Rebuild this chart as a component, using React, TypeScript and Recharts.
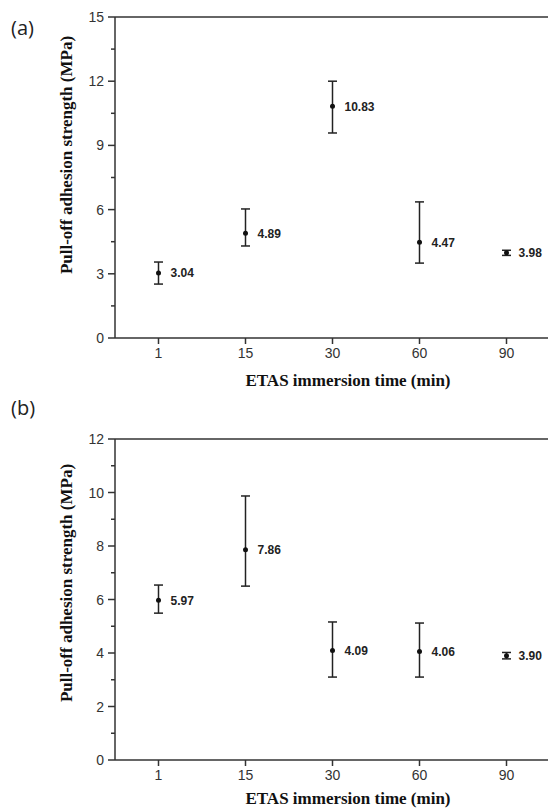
import React from 'react';
import { ComposedChart, Line, XAxis, YAxis, ErrorBar, LabelList, ReferenceLine } from 'recharts';

const times = ['1', '15', '30', '60', '90'];
const meanA = [3.04, 4.89, 10.83, 4.47, 3.98];
const errLowA = [0.52, 0.59, 1.25, 0.97, 0.12];
const errHighA = [0.51, 1.14, 1.17, 1.89, 0.12];
const meanB = [5.97, 7.86, 4.09, 4.06, 3.9];
const errLowB = [0.48, 1.36, 0.99, 0.96, 0.12];
const errHighB = [0.57, 2.01, 1.07, 1.06, 0.12];
const majorTicksA = [0, 3, 6, 9, 12, 15];
const minorTicksA = [1.5, 4.5, 7.5, 10.5, 13.5];
const majorTicksB = [0, 2, 4, 6, 8, 10, 12];
const minorTicksB = [1, 3, 5, 7, 9, 11];
const xTitle = 'ETAS immersion time (min)';
const yTitle = 'Pull-off adhesion strength (MPa)';

const AXIS = '#333';
const SANS = '"Liberation Sans", Arial, sans-serif';
const SERIF = '"Liberation Serif", "Times New Roman", serif';

const build = (means: number[], lows: number[], highs: number[]) =>
  times.map((t, i) => ({ t, v: means[i], err: [lows[i], highs[i]] }));

const dataA = build(meanA, errLowA, errHighA);
const dataB = build(meanB, errLowB, errHighB);

const makeYTick = (majors: number[]) => (props: any) => {
  const { x, y, payload } = props;
  const v = payload.value;
  const isMajor = majors.includes(v);
  return (
    <g>
      <line x1={x - (isMajor ? 7 : 4)} x2={x} y1={y} y2={y} stroke={AXIS} strokeWidth={1.5} />
      {isMajor && (
        <text x={x - 11} y={y} dy="0.36em" textAnchor="end" fontSize={14} fill="#333" fontFamily={SANS}>
          {v}
        </text>
      )}
    </g>
  );
};

const valueLabel = (props: any) => {
  const { x, y, value } = props;
  return (
    <text x={x + 12} y={y} dy="0.36em" fontSize={12} fontWeight="bold" fill="#222" fontFamily={SANS}>
      {Number(value).toFixed(2)}
    </text>
  );
};

type PanelProps = {
  data: any[];
  majors: number[];
  minors: number[];
  yMax: number;
  height: number;
  top: number;
  plotTop: number;
  bottom: number;
  yTitleY: number;
  xTitleY: number;
  letter: string;
  letterY: number;
};

const Panel = (p: PanelProps) => {
  const ticks = [...p.majors, ...p.minors].sort((a, b) => a - b);
  return (
    <div style={{ position: 'absolute', left: 0, top: p.top, width: 548, height: p.height, overflow: 'hidden' }}>
      <div
        style={{
          position: 'absolute',
          left: 11,
          top: p.letterY - 14,
          fontFamily: '"Open Sans", "Noto Sans", sans-serif',
          fontSize: 20,
          lineHeight: '28px',
          color: '#222',
        }}
      >
        {p.letter}
      </div>
      <ComposedChart
        width={550}
        height={p.height}
        data={p.data}
        margin={{ top: p.plotTop, right: 0, left: 0, bottom: p.bottom }}
      >
        <XAxis
          dataKey="t"
          type="category"
          height={30}
          interval={0}
          padding={{ left: 43.5, right: 43.5 }}
          axisLine={{ stroke: AXIS, strokeWidth: 1.5 }}
          tickLine={{ stroke: AXIS, strokeWidth: 1.5 }}
          tickSize={6}
          tickMargin={4}
          tick={{ fontSize: 14, fill: '#333', fontFamily: SANS }}
          label={{
            content: () => (
              <text x={348} y={p.xTitleY} dy="0.35em" textAnchor="middle" fontSize={17} fontWeight="bold" fill="#111" fontFamily={SERIF}>
                {xTitle}
              </text>
            ),
          }}
        />
        <YAxis
          type="number"
          domain={[0, p.yMax]}
          ticks={ticks}
          interval={0}
          width={115}
          axisLine={{ stroke: AXIS, strokeWidth: 1.5 }}
          tickLine={false}
          tickSize={0}
          tickMargin={0}
          tick={makeYTick(p.majors)}
          label={{
            content: () => (
              <text
                x={66}
                y={p.yTitleY}
                dy="0.35em"
                textAnchor="middle"
                transform={`rotate(-90 66 ${p.yTitleY})`}
                fontSize={17}
                fontWeight="bold"
                fill="#111"
                fontFamily={SERIF}
              >
                {yTitle}
              </text>
            ),
          }}
        />
        <ReferenceLine y={p.yMax} stroke={AXIS} strokeWidth={1.5} />
        <Line
          dataKey="v"
          stroke="none"
          isAnimationActive={false}
          dot={{ r: 2.5, fill: '#111', stroke: 'none' }}
          activeDot={false}
        >
          <ErrorBar dataKey="err" direction="y" width={4.5} stroke="#222" strokeWidth={1.5} isAnimationActive={false} />
          <LabelList dataKey="v" content={valueLabel} />
        </Line>
      </ComposedChart>
    </div>
  );
};

export default function App() {
  return (
    <div style={{ position: 'absolute', left: 0, top: 0, width: 548, height: 809, background: '#fff' }}>
      <Panel
        data={dataA}
        majors={majorTicksA}
        minors={minorTicksA}
        yMax={15}
        height={395}
        top={0}
        plotTop={17}
        bottom={27}
        yTitleY={155}
        xTitleY={380}
        letter="(a)"
        letterY={28}
      />
      <Panel
        data={dataB}
        majors={majorTicksB}
        minors={minorTicksB}
        yMax={12}
        height={414}
        top={395}
        plotTop={44}
        bottom={19}
        yTitleY={188}
        xTitleY={403}
        letter="(b)"
        letterY={13}
      />
    </div>
  );
}
